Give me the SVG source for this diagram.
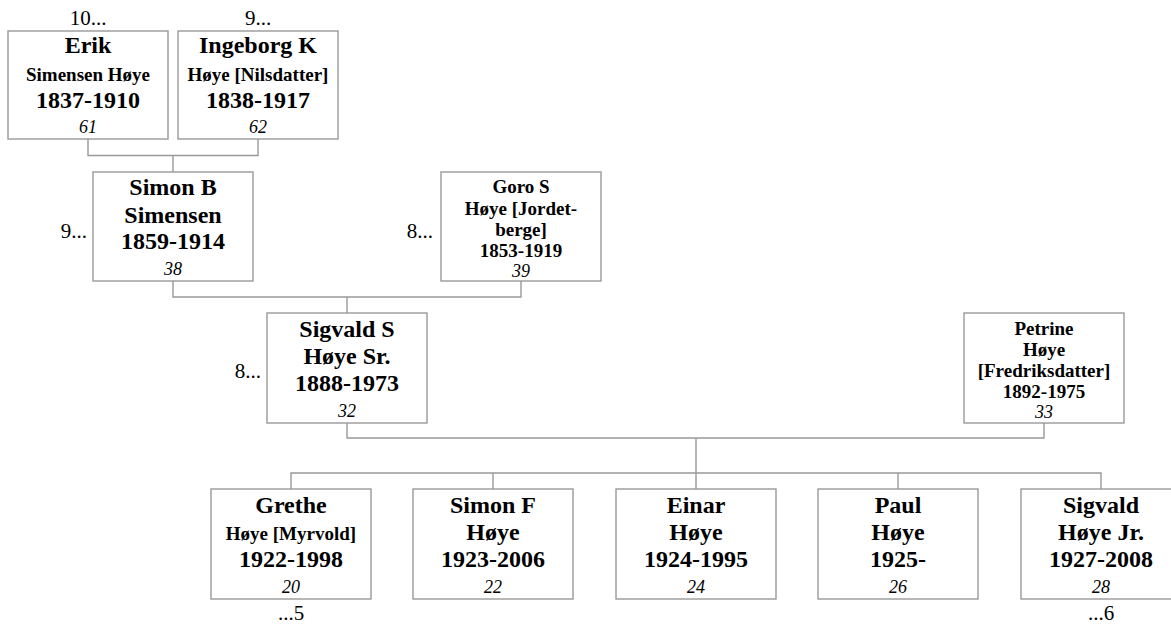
<svg xmlns="http://www.w3.org/2000/svg" width="1171" height="625" viewBox="0 0 1171 625" font-family="'Liberation Serif', 'DejaVu Serif', serif">
<style>
.box{fill:#fff;stroke:#999;stroke-width:1.4}
.con{fill:none;stroke:#999;stroke-width:1.4}
text{font-family:'Liberation Serif','DejaVu Serif',serif;fill:#000;text-anchor:middle}
.b{font-weight:bold;font-size:24px}
.s{font-weight:bold;font-size:19px}
.t{font-weight:bold;font-size:19px}
.n{font-style:italic;font-size:18px}
.l{font-size:21px}
.e{text-anchor:end}
</style>
<rect width="1171" height="625" fill="#fff"/>
<g id="connectors">
<path class="con" d="M88 139V155.5H258V139M173 155.5V172"/>
<path class="con" d="M173 281V297H521V281M347 297V313"/>
<path class="con" d="M347 423V438H1044V423M696 438V473"/>
<path class="con" d="M291 489V473H1101V489M493 473V489M696 473V489M898 473V489"/>
</g>
<g id="erik">
<rect class="box" x="8" y="31" width="160" height="108"/>
<text class="b" x="88" y="53">Erik</text>
<text class="s" x="88" y="81">Simensen Høye</text>
<text class="b" x="88" y="108">1837-1910</text>
<text class="n" x="88" y="133">61</text>
<text class="l" x="88" y="25">10...</text>
</g>
<g id="ingeborg">
<rect class="box" x="178" y="31" width="160" height="108"/>
<text class="b" x="258" y="53">Ingeborg K</text>
<text class="s" x="258" y="81">Høye [Nilsdatter]</text>
<text class="b" x="258" y="108">1838-1917</text>
<text class="n" x="258" y="133">62</text>
<text class="l" x="258" y="25">9...</text>
</g>
<g id="simonb">
<rect class="box" x="93" y="172" width="160" height="109"/>
<text class="b" x="173" y="195">Simon B</text>
<text class="b" x="173" y="223">Simensen</text>
<text class="b" x="173" y="249">1859-1914</text>
<text class="n" x="173" y="275">38</text>
<text class="l e" x="87" y="238">9...</text>
</g>
<g id="goro">
<rect class="box" x="441" y="172" width="160" height="109"/>
<text class="t" x="521" y="193">Goro S</text>
<text class="t" x="521" y="215">Høye [Jordet-</text>
<text class="t" x="521" y="236">berge]</text>
<text class="t" x="521" y="257">1853-1919</text>
<text class="n" x="521" y="277">39</text>
<text class="l e" x="433" y="238">8...</text>
</g>
<g id="sigvalds">
<rect class="box" x="267" y="313" width="160" height="110"/>
<text class="b" x="347" y="337">Sigvald S</text>
<text class="b" x="347" y="364">Høye Sr.</text>
<text class="b" x="347" y="391">1888-1973</text>
<text class="n" x="347" y="417">32</text>
<text class="l e" x="261" y="378">8...</text>
</g>
<g id="petrine">
<rect class="box" x="964" y="313" width="160" height="110"/>
<text class="t" x="1044" y="335">Petrine</text>
<text class="t" x="1044" y="356">Høye</text>
<text class="t" x="1044" y="377">[Fredriksdatter]</text>
<text class="t" x="1044" y="398">1892-1975</text>
<text class="n" x="1044" y="418">33</text>
</g>
<g id="grethe">
<rect class="box" x="211" y="489" width="160" height="110"/>
<text class="b" x="291" y="513">Grethe</text>
<text class="s" x="291" y="540">Høye [Myrvold]</text>
<text class="b" x="291" y="567">1922-1998</text>
<text class="n" x="291" y="593">20</text>
<text class="l" x="291" y="620">...5</text>
</g>
<g id="simonf">
<rect class="box" x="413" y="489" width="160" height="110"/>
<text class="b" x="493" y="513">Simon F</text>
<text class="b" x="493" y="540">Høye</text>
<text class="b" x="493" y="567">1923-2006</text>
<text class="n" x="493" y="593">22</text>
</g>
<g id="einar">
<rect class="box" x="616" y="489" width="160" height="110"/>
<text class="b" x="696" y="513">Einar</text>
<text class="b" x="696" y="540">Høye</text>
<text class="b" x="696" y="567">1924-1995</text>
<text class="n" x="696" y="593">24</text>
</g>
<g id="paul">
<rect class="box" x="818" y="489" width="160" height="110"/>
<text class="b" x="898" y="513">Paul</text>
<text class="b" x="898" y="540">Høye</text>
<text class="b" x="898" y="567">1925-</text>
<text class="n" x="898" y="593">26</text>
</g>
<g id="sigvaldjr">
<rect class="box" x="1021" y="489" width="160" height="110"/>
<text class="b" x="1101" y="513">Sigvald</text>
<text class="b" x="1101" y="540">Høye Jr.</text>
<text class="b" x="1101" y="567">1927-2008</text>
<text class="n" x="1101" y="593">28</text>
<text class="l" x="1101" y="620">...6</text>
</g>
</svg>
